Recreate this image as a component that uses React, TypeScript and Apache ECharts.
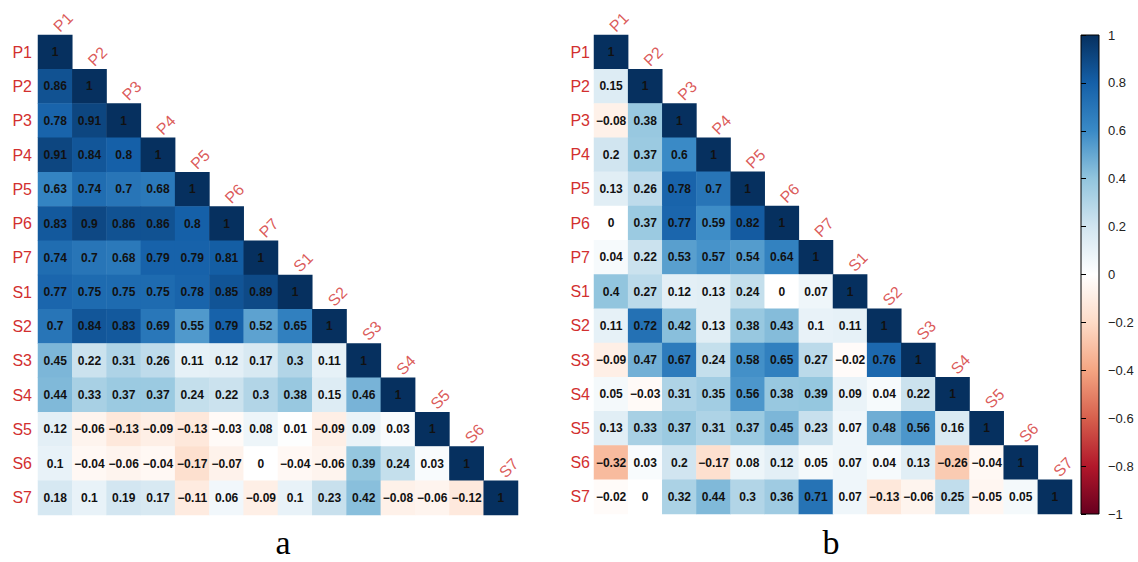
import React, { useEffect, useRef } from "react";
import * as echarts from "echarts";

const CATS = ["P1", "P2", "P3", "P4", "P5", "P6", "P7", "S1", "S2", "S3", "S4", "S5", "S6", "S7"];

const MATRIX_A: number[][] = [
  [1],
  [0.86, 1],
  [0.78, 0.91, 1],
  [0.91, 0.84, 0.8, 1],
  [0.63, 0.74, 0.7, 0.68, 1],
  [0.83, 0.9, 0.86, 0.86, 0.8, 1],
  [0.74, 0.7, 0.68, 0.79, 0.79, 0.81, 1],
  [0.77, 0.75, 0.75, 0.75, 0.78, 0.85, 0.89, 1],
  [0.7, 0.84, 0.83, 0.69, 0.55, 0.79, 0.52, 0.65, 1],
  [0.45, 0.22, 0.31, 0.26, 0.11, 0.12, 0.17, 0.3, 0.11, 1],
  [0.44, 0.33, 0.37, 0.37, 0.24, 0.22, 0.3, 0.38, 0.15, 0.46, 1],
  [0.12, -0.06, -0.13, -0.09, -0.13, -0.03, 0.08, 0.01, -0.09, 0.09, 0.03, 1],
  [0.1, -0.04, -0.06, -0.04, -0.17, -0.07, 0, -0.04, -0.06, 0.39, 0.24, 0.03, 1],
  [0.18, 0.1, 0.19, 0.17, -0.11, 0.06, -0.09, 0.1, 0.23, 0.42, -0.08, -0.06, -0.12, 1],
];

const MATRIX_B: number[][] = [
  [1],
  [0.15, 1],
  [-0.08, 0.38, 1],
  [0.2, 0.37, 0.6, 1],
  [0.13, 0.26, 0.78, 0.7, 1],
  [0, 0.37, 0.77, 0.59, 0.82, 1],
  [0.04, 0.22, 0.53, 0.57, 0.54, 0.64, 1],
  [0.4, 0.27, 0.12, 0.13, 0.24, 0, 0.07, 1],
  [0.11, 0.72, 0.42, 0.13, 0.38, 0.43, 0.1, 0.11, 1],
  [-0.09, 0.47, 0.67, 0.24, 0.58, 0.65, 0.27, -0.02, 0.76, 1],
  [0.05, -0.03, 0.31, 0.35, 0.56, 0.38, 0.39, 0.09, 0.04, 0.22, 1],
  [0.13, 0.33, 0.37, 0.31, 0.37, 0.45, 0.23, 0.07, 0.48, 0.56, 0.16, 1],
  [-0.32, 0.03, 0.2, -0.17, 0.08, 0.12, 0.05, 0.07, 0.04, 0.13, -0.26, -0.04, 1],
  [-0.02, 0, 0.32, 0.44, 0.3, 0.36, 0.71, 0.07, -0.13, -0.06, 0.25, -0.05, 0.05, 1],
];

const PANEL_TITLES = ["a", "b"];

const RDBU = [
  "#67001F", "#B2182B", "#D6604D", "#F4A582", "#FDDBC7", "#FFFFFF",
  "#D1E5F0", "#92C5DE", "#3A8AC6", "#1560A8", "#06305F",
];

const FONT = "'Liberation Sans', Arial, Helvetica, sans-serif";
const RED = "#D2302F";

const fmt = (v: number) => {
  const s = String(Math.round(v * 100) / 100);
  return s.replace("-", "\u2212");
};

function toData(m: number[][]) {
  const out: any[] = [];
  m.forEach((row, r) => row.forEach((v, c) => out.push([c, r, v])));
  return out;
}

export default function App() {
  const ref = useRef<HTMLDivElement>(null);
  useEffect(() => {
    if (!ref.current) return;
    const chart = echarts.init(ref.current, null, { renderer: "svg" });

    const grids = [
      { left: 38, top: 35, width: 480, height: 480 },
      { left: 594, top: 35, width: 478, height: 479 },
    ];

    const xAxes: any[] = [];
    const yAxes: any[] = [];
    const series: any[] = [];
    [MATRIX_A, MATRIX_B].forEach((m, gi) => {
      xAxes.push({
        type: "category",
        data: CATS,
        gridIndex: gi,
        show: false,
      });
      yAxes.push({
        type: "category",
        data: CATS,
        gridIndex: gi,
        inverse: true,
        axisLine: { show: false },
        axisTick: { show: false },
        splitLine: { show: false },
        axisLabel: {
          color: RED,
          fontSize: 16,
          fontFamily: FONT,
          margin: gi === 0 ? 6 : 4,
        },
      });
      series.push({
        type: "heatmap",
        xAxisIndex: gi,
        yAxisIndex: gi,
        data: toData(m),
        itemStyle: { borderWidth: 0 },
        emphasis: { disabled: true },
        label: {
          show: true,
          color: "#111",
          fontSize: 12,
          fontWeight: "bold",
          fontFamily: FONT,
          formatter: (p: any) => fmt(p.value[2]),
        },
      });
    });
    // diagonal column labels
    [0, 1].forEach((gi) => {
      series.push({
        type: "scatter",
        xAxisIndex: gi,
        yAxisIndex: gi,
        symbolSize: 0,
        silent: true,
        data: CATS.map((c, i) => ({ name: c, value: [i, i] })),
        label: {
          show: true,
          position: "inside",
          offset: [17, -15.5],
          rotate: 45,
          align: "left",
          verticalAlign: "middle",
          color: RED,
          fontSize: 16,
          fontFamily: FONT,
          formatter: "{b}",
        },
      });
    });

    // colorbar grid
    const cbGrid = {
      left: 1081,
      top: 35,
      width: 18,
      height: 479,
      show: true,
      borderColor: "#000",
      borderWidth: 1,
      backgroundColor: new echarts.graphic.LinearGradient(
        0, 0, 0, 1,
        RDBU.slice().reverse().map((c, i) => ({ offset: i / (RDBU.length - 1), color: c }))
      ),
    };
    xAxes.push({ type: "value", gridIndex: 2, show: false, min: 0, max: 1 });
    yAxes.push({
      type: "value",
      gridIndex: 2,
      min: -1,
      max: 1,
      interval: 0.2,
      position: "right",
      axisLine: { show: false },
      splitLine: { show: false },
      axisTick: { show: true, length: 5, lineStyle: { color: "#000" } },
      axisLabel: {
        color: "#222",
        fontSize: 13,
        fontFamily: FONT,
        margin: 9,
        formatter: (v: number) => fmt(Math.round(v * 10) / 10),
      },
    });

    chart.setOption({
      animation: false,
      backgroundColor: "#fff",
      title: PANEL_TITLES.map((t, i) => ({
        text: t,
        left: i === 0 ? 278 : 826,
        top: 520,
        textAlign: "center",
        textStyle: {
          fontFamily: "'Liberation Serif', 'Times New Roman', serif",
          fontSize: 34,
          fontWeight: "normal",
          color: "#000",
        },
      })),
      grid: [...grids, cbGrid],
      xAxis: xAxes,
      yAxis: yAxes,
      visualMap: {
        type: "continuous",
        show: false,
        min: -1,
        max: 1,
        seriesIndex: [0, 1],
        inRange: { color: RDBU },
      },
      series,
    });
    return () => chart.dispose();
  }, []);

  return (
    <div
      ref={ref}
      style={{ position: "absolute", left: 0, top: 0, width: 1138, height: 562 }}
    />
  );
}
